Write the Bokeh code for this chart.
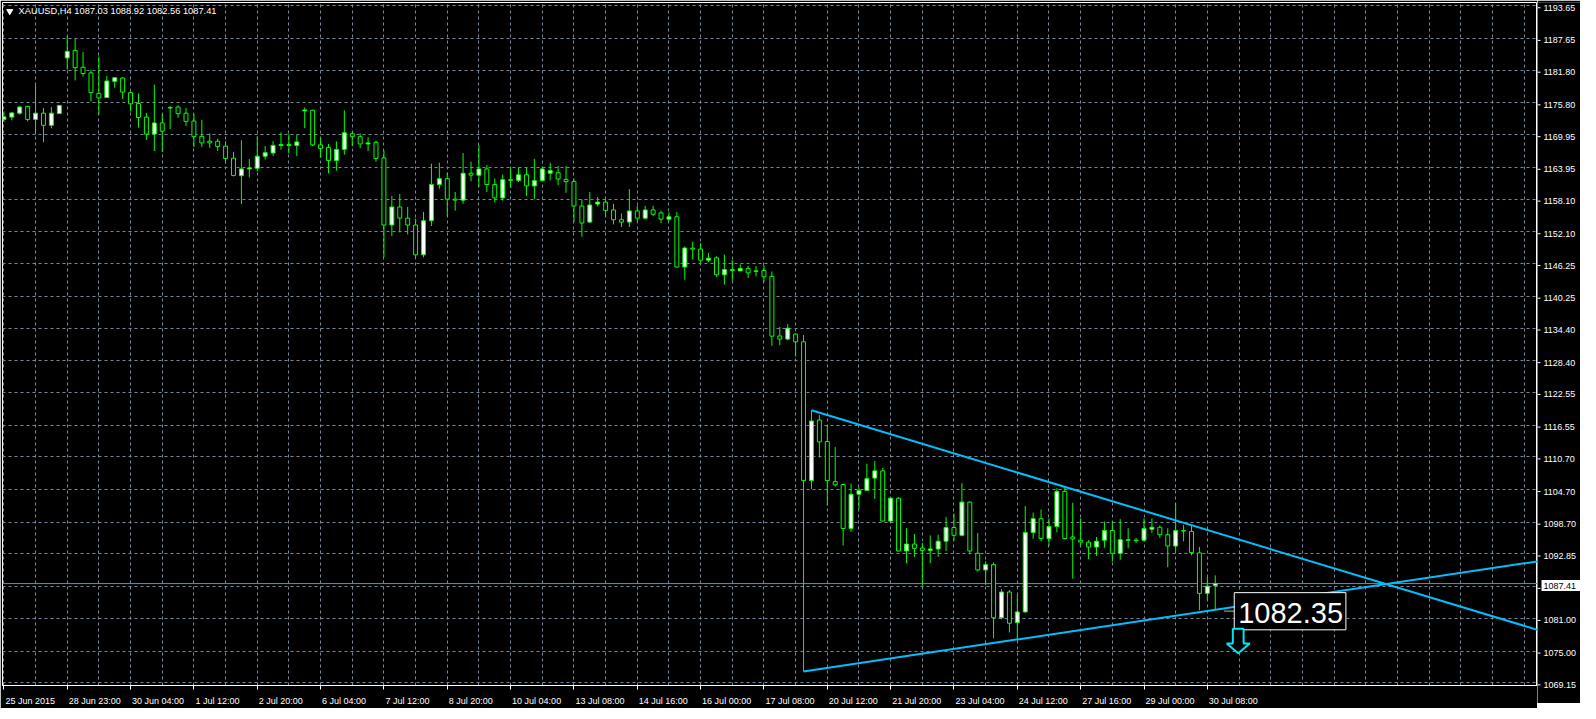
from bokeh.plotting import figure
from bokeh.layouts import row
from bokeh.models import Range1d, FixedTicker, Label, Span, ColumnDataSource, Grid
from bokeh.core.properties import value
from bokeh.embed import file_html
from bokeh.resources import INLINE

# ---------------- data (XAUUSD H4) ----------------
symbol = "XAUUSD,H4"
opens = [1172.75, 1173.18, 1173.90, 1175.15, 1172.75, 1173.90, 1171.67, 1173.82, 1184.06, 1185.45,
         1182.34, 1181.31, 1177.54, 1176.77, 1179.75, 1180.36, 1177.67, 1175.69, 1173.18, 1170.05,
         1172.10, 1174.85, 1175.03, 1173.90, 1172.46, 1169.64, 1168.74, 1168.74, 1167.84, 1165.63,
         1162.40, 1163.65, 1163.76, 1165.99, 1166.58, 1167.97, 1168.15, 1167.97, 1174.31, 1174.43,
         1168.07, 1167.61, 1165.20, 1167.25, 1170.12, 1169.58, 1168.25, 1168.56, 1165.68, 1153.34,
         1156.65, 1154.60, 1153.34, 1147.85, 1154.13, 1160.78, 1161.86, 1158.09, 1157.91, 1162.86,
         1162.51, 1163.65, 1160.78, 1158.32, 1161.68, 1161.55, 1162.58, 1160.53, 1161.50, 1162.86,
         1162.94, 1161.73, 1161.32, 1156.83, 1153.88, 1157.19, 1157.55, 1156.11, 1154.31, 1153.88,
         1155.93, 1154.60, 1156.11, 1155.57, 1154.42, 1154.85, 1145.62, 1149.10, 1148.92, 1146.87,
         1147.30, 1144.18, 1145.15, 1144.90, 1145.33, 1144.79, 1144.97, 1143.89, 1132.93, 1132.36,
         1133.29, 1131.86, 1106.34, 1117.48, 1113.53, 1106.16, 1105.62, 1097.54, 1103.83, 1104.55,
         1106.81, 1108.14, 1098.91, 1103.11, 1093.41, 1094.67, 1093.95, 1093.52, 1093.77, 1095.20,
         1097.72, 1096.28, 1102.39, 1092.98, 1089.92, 1090.89, 1081.12, 1085.86, 1080.22, 1082.20,
         1096.82, 1099.34, 1095.67, 1097.90, 1104.37, 1095.98, 1095.38, 1095.03, 1094.13, 1095.38,
         1097.18, 1092.98, 1095.49, 1095.38, 1095.38, 1097.41, 1097.77, 1096.39, 1094.31, 1097.18,
         1097.00, 1093.05, 1085.61, 1087.03]
highs = [1174.25, 1174.08, 1175.26, 1175.26, 1179.03, 1174.85, 1175.03, 1175.40, 1188.14, 1187.55,
         1185.14, 1181.85, 1184.32, 1180.72, 1180.54, 1180.54, 1177.96, 1177.54, 1173.95, 1179.16,
         1173.77, 1175.15, 1175.33, 1174.85, 1173.77, 1172.69, 1170.18, 1169.22, 1168.74, 1166.76,
         1168.92, 1165.45, 1169.64, 1167.84, 1168.74, 1170.36, 1170.05, 1169.94, 1174.97, 1174.54,
         1169.33, 1168.25, 1168.69, 1174.43, 1170.54, 1170.18, 1169.46, 1168.86, 1167.07, 1158.68,
         1159.04, 1156.65, 1154.49, 1155.75, 1164.61, 1164.79, 1162.99, 1159.40, 1166.58, 1164.97,
         1168.02, 1164.37, 1161.91, 1162.63, 1163.94, 1163.94, 1163.94, 1165.51, 1164.07, 1164.79,
         1164.19, 1164.19, 1161.86, 1158.09, 1159.40, 1158.50, 1158.09, 1157.24, 1155.44, 1159.94,
         1156.88, 1156.88, 1156.88, 1155.98, 1155.68, 1155.75, 1149.39, 1150.29, 1150.00, 1148.20,
         1147.59, 1147.90, 1146.87, 1146.10, 1145.80, 1145.80, 1145.92, 1144.79, 1134.60, 1135.14,
         1133.40, 1133.11, 1119.28, 1118.38, 1116.46, 1112.51, 1105.80, 1105.80, 1105.09, 1109.45,
         1109.94, 1108.68, 1103.29, 1103.29, 1097.59, 1096.52, 1094.90, 1096.28, 1096.39, 1099.62,
         1100.29, 1105.86, 1102.50, 1096.70, 1091.49, 1091.31, 1086.40, 1086.22, 1085.32, 1101.67,
         1100.47, 1101.01, 1099.39, 1104.96, 1105.09, 1102.27, 1099.39, 1095.38, 1095.98, 1098.80,
         1098.80, 1099.26, 1097.59, 1095.80, 1099.39, 1099.39, 1098.08, 1097.59, 1102.21, 1098.19,
         1098.08, 1094.13, 1088.61, 1088.92]
lows = [1172.28, 1172.57, 1173.64, 1172.39, 1170.05, 1168.56, 1171.13, 1173.75, 1181.91, 1179.93,
        1180.65, 1176.05, 1173.64, 1176.70, 1178.57, 1176.52, 1174.25, 1171.25, 1168.97, 1166.94,
        1166.76, 1170.95, 1173.05, 1171.56, 1167.66, 1167.66, 1167.53, 1166.94, 1164.66, 1162.27,
        1157.19, 1162.09, 1163.17, 1165.38, 1166.04, 1167.18, 1166.46, 1165.99, 1171.13, 1167.84,
        1165.74, 1162.86, 1163.35, 1166.28, 1167.84, 1167.48, 1166.94, 1164.97, 1147.41, 1151.31,
        1151.98, 1151.62, 1147.30, 1147.41, 1153.16, 1159.99, 1154.96, 1155.98, 1157.24, 1161.37,
        1160.35, 1159.40, 1157.47, 1157.83, 1160.17, 1161.25, 1158.68, 1158.09, 1161.37, 1161.55,
        1160.65, 1159.27, 1153.88, 1151.19, 1153.70, 1156.76, 1154.96, 1153.47, 1152.98, 1152.98,
        1154.01, 1154.37, 1154.96, 1153.70, 1154.01, 1145.51, 1143.28, 1147.00, 1146.41, 1146.52,
        1143.82, 1142.38, 1143.10, 1144.80, 1143.59, 1143.89, 1142.81, 1131.14, 1131.24, 1132.14,
        1129.16, 1071.24, 1104.78, 1110.58, 1101.78, 1105.26, 1094.41, 1096.93, 1101.06, 1104.48,
        1102.98, 1098.80, 1098.67, 1093.28, 1091.13, 1092.33, 1086.99, 1091.18, 1092.33, 1093.41,
        1095.31, 1096.10, 1092.80, 1089.63, 1087.12, 1077.35, 1080.83, 1078.42, 1077.24, 1082.02,
        1095.67, 1095.20, 1094.31, 1096.82, 1095.49, 1088.31, 1094.41, 1091.90, 1092.51, 1094.00,
        1091.43, 1091.79, 1093.88, 1094.90, 1095.08, 1096.70, 1095.80, 1090.41, 1093.41, 1095.20,
        1092.62, 1082.50, 1084.43, 1082.56]
closes = [1173.23, 1173.95, 1175.03, 1172.75, 1173.90, 1171.67, 1173.90, 1175.33, 1185.27, 1182.27,
          1181.19, 1177.67, 1176.70, 1179.82, 1180.42, 1177.78, 1175.62, 1173.10, 1170.05, 1172.10,
          1170.59, 1174.97, 1173.82, 1172.39, 1169.58, 1168.43, 1168.43, 1167.79, 1165.56, 1162.45,
          1163.65, 1163.83, 1165.99, 1166.64, 1167.97, 1168.15, 1167.97, 1168.61, 1174.49, 1168.07,
          1167.43, 1165.20, 1167.25, 1170.30, 1169.58, 1168.25, 1168.43, 1165.56, 1153.34, 1156.65,
          1154.60, 1153.34, 1147.85, 1154.13, 1160.78, 1161.86, 1158.09, 1157.91, 1162.86, 1162.51,
          1163.65, 1160.78, 1158.32, 1161.68, 1161.55, 1162.58, 1160.53, 1161.50, 1163.65, 1163.35,
          1161.79, 1161.32, 1156.83, 1153.70, 1157.01, 1157.55, 1156.04, 1154.31, 1153.88, 1155.93,
          1154.60, 1156.11, 1155.32, 1154.42, 1154.85, 1145.62, 1149.10, 1148.92, 1146.87, 1147.23,
          1144.18, 1145.15, 1144.97, 1145.33, 1144.54, 1144.90, 1143.82, 1132.90, 1132.36, 1134.37,
          1131.86, 1106.34, 1117.30, 1113.46, 1106.34, 1105.55, 1097.54, 1103.83, 1104.55, 1106.70,
          1108.14, 1098.91, 1103.11, 1093.41, 1094.67, 1093.88, 1093.52, 1093.77, 1095.20, 1097.72,
          1096.28, 1102.39, 1093.41, 1089.92, 1090.89, 1081.12, 1085.86, 1080.11, 1082.20, 1096.82,
          1099.34, 1095.67, 1097.90, 1104.37, 1095.67, 1095.62, 1095.03, 1094.13, 1095.20, 1097.18,
          1092.98, 1095.49, 1095.38, 1095.31, 1097.54, 1097.77, 1096.39, 1094.31, 1097.18, 1097.06,
          1093.10, 1085.61, 1086.94, 1087.41]

time_labels = ["25 Jun 2015", "28 Jun 23:00", "30 Jun 04:00", "1 Jul 12:00", "2 Jul 20:00",
               "6 Jul 04:00", "7 Jul 12:00", "8 Jul 20:00", "10 Jul 04:00", "13 Jul 08:00",
               "14 Jul 16:00", "16 Jul 00:00", "17 Jul 08:00", "20 Jul 12:00", "21 Jul 20:00",
               "23 Jul 04:00", "24 Jul 12:00", "27 Jul 16:00", "29 Jul 00:00", "30 Jul 08:00"]
time_label_bars = list(range(0, 153, 8))

price_ticks = [1069.15, 1075.00, 1081.00, 1086.90, 1092.85, 1098.70, 1104.70, 1110.70, 1116.55,
               1122.55, 1128.40, 1134.40, 1140.25, 1146.25, 1152.10, 1158.10, 1163.95, 1169.95,
               1175.80, 1181.80, 1187.65, 1193.65]
hidden_price_tick = 1086.90   # covered by the bid label

# trend lines: two anchor points each (bar index, price)
upper_trend = [(102, 1119.28), (193.7, 1078.90)]
lower_trend = [(101, 1071.24), (153, 1082.60)]

marker_price = 1082.35      # price text object
arrow_tip_price = 1074.60

# ---------------- layout ----------------
X0, X1 = -0.175, 193.7
Y0, Y1 = 1068.67, 1194.25
FRAME_W, FRAME_H = 1535, 683
px_per_bar = FRAME_W / (X1 - X0)
px_per_usd = FRAME_H / (Y1 - Y0)
AXIS_W = 43

FONT = "Liberation Sans"
GREEN = "#00FF00"
GRID = "#778899"

p = figure(frame_width=FRAME_W, frame_height=FRAME_H,
           x_range=Range1d(X0, X1), y_range=Range1d(Y0, Y1),
           y_axis_location=None, output_backend="svg", toolbar_location=None,
           min_border_left=2, min_border_top=2, min_border_right=0, min_border_bottom=18,
           background_fill_color="black", border_fill_color="black",
           outline_line_color="white", outline_line_width=1)

# x axis: labels start at the tick (left aligned) -> centre them by text width
CHAR_W = {c: 556 for c in "0123456789"}
CHAR_W.update({" ": 278, ":": 278, "J": 500, "u": 556, "n": 556, "l": 222})
def text_width(s, size):
    return sum(CHAR_W.get(ch, 556) for ch in s) * size / 1000.0

label_centres = []
overrides = {}
for b, lab in zip(time_label_bars, time_labels):
    c = round(b + (text_width(lab, 9) / 2 + 1.5) / px_per_bar, 4)
    label_centres.append(c)
    overrides[c] = lab

xa = p.xaxis[0]
xa.ticker = FixedTicker(ticks=label_centres, minor_ticks=time_label_bars)
xa.major_label_overrides = overrides
xa.major_tick_line_color = None
xa.major_tick_out = 0
xa.major_tick_in = 0
xa.minor_tick_out = 4
xa.minor_tick_in = 0
xa.minor_tick_line_color = "white"
xa.axis_line_color = "white"
xa.major_label_text_color = "white"
xa.major_label_text_font = FONT
xa.major_label_text_font_size = "9px"
xa.major_label_standoff = 6

# grids
for g in p.ygrid:
    g.visible = False
p.add_layout(Grid(dimension=1, ticker=FixedTicker(ticks=price_ticks),
                  grid_line_color=GRID, grid_line_dash="3 3"))
p.xgrid.ticker = FixedTicker(ticks=list(range(0, 193, 4)))
p.xgrid.grid_line_color = GRID
p.xgrid.grid_line_dash = "3 3"

# bid line
p.add_layout(Span(location=closes[-1], dimension="width", line_color=GRID, line_width=1,
                  level="underlay"))

# candles
bars = list(range(len(opens)))
tops, bottoms, fills = [], [], []
for o, c in zip(opens, closes):
    hi, lo = max(o, c), min(o, c)
    if hi - lo < 0.12:
        mid = (hi + lo) / 2
        hi, lo = mid + 0.06, mid - 0.06
    tops.append(hi)
    bottoms.append(lo)
    fills.append("white" if c >= o else "black")
src = ColumnDataSource(dict(x=bars, high=highs, low=lows, top=tops, bottom=bottoms, fill=fills))
p.segment(x0="x", y0="low", x1="x", y1="high", source=src, line_color=GREEN, line_width=1)
p.vbar(x="x", width=0.5, top="top", bottom="bottom", fill_color="fill",
       line_color=GREEN, line_width=1, source=src)

# trend lines (extended to the right edge)
for (ta0, tb0), (ta1, tb1) in (upper_trend, lower_trend):
    slope = (tb1 - tb0) / (ta1 - ta0)
    xe = X1 + 5
    p.line([ta0, xe], [tb0, tb0 + slope * (xe - ta0)], line_color="#00BFFF", line_width=2)

# price text object "1082.35": level tick, boxed text and the down arrow
lab_x = len(opens) + 1.4
p.segment(x0=[lab_x - 1.3], y0=[marker_price], x1=[lab_x], y1=[marker_price],
          line_color="#B8B8B8", line_width=1)
p.quad(left=[lab_x], right=[lab_x + 14.1], top=[marker_price + 3.39],
       bottom=[marker_price - 3.44], fill_color="black", line_color="white", line_width=1)
p.text(x=[lab_x + 0.5], y=[marker_price - 0.4], text=[f"{marker_price:.2f}"],
       text_font=value(FONT), text_font_size="29px", text_color="white",
       text_align="left", text_baseline="middle")

ax = lab_x + 0.5
neck = arrow_tip_price + 1.8
top = arrow_tip_price + 4.49
p.patch([ax - 0.68, ax + 0.68, ax + 0.68, ax + 1.45, ax, ax - 1.45, ax - 0.68],
        [top, top, neck, neck, arrow_tip_price, neck, neck],
        fill_color="black", line_color="#00E5EE", line_width=2)

# header
p.scatter(x=[0.74], y=[1192.63], marker="inverted_triangle", size=6, color="white")
p.add_layout(Label(x=1.85, y=1192.63, text=f"{symbol}  {opens[-1]:.2f} {highs[-1]:.2f} "
                   f"{lows[-1]:.2f} {closes[-1]:.2f}",
                   text_font=FONT, text_font_size="9.3px", text_color="white",
                   text_baseline="middle", text_align="left"))

# ---------------- price scale column (right) ----------------
q = figure(frame_width=AXIS_W, frame_height=FRAME_H + 20,
           x_range=Range1d(0, AXIS_W),
           y_range=Range1d(Y0 - 18 / px_per_usd, Y1 + 2 / px_per_usd),
           x_axis_location=None, y_axis_location=None, output_backend="svg",
           toolbar_location=None, min_border=0,
           background_fill_color="black", border_fill_color="black", outline_line_color=None)
q.grid.visible = False
shown = [t for t in price_ticks if t != hidden_price_tick]
q.segment(x0=0, y0=price_ticks, x1=3, y1=price_ticks, line_color="white", line_width=1)
q.text(x=6, y=shown, text=[f"{t:.2f}" for t in shown], text_font=value(FONT),
       text_font_size="9px", text_color="white", text_baseline="middle", text_align="left")
bid = closes[-1]
q.quad(left=[4], right=[AXIS_W], top=[bid + 5.5 / px_per_usd], bottom=[bid - 5.5 / px_per_usd],
       fill_color="white", line_color=None)
q.text(x=[6], y=[bid], text=[f"{bid:.2f}"], text_font=value(FONT), text_font_size="9px",
       text_color="black", text_baseline="middle", text_align="left")

layout = row(p, q, spacing=0)
open("out.html", "w").write(file_html(layout, INLINE))
